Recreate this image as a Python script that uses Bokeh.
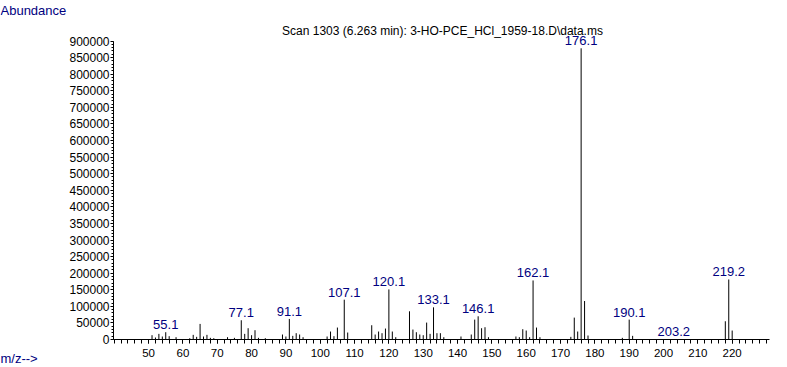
from bokeh.plotting import figure
from bokeh.models import FixedTicker, ColumnDataSource
from bokeh.embed import file_html
from bokeh.resources import INLINE
from bokeh.core.properties import value

# ---------------- data ----------------
mz = [51, 52, 53, 54, 55, 56, 58, 62, 63, 64, 65, 66, 67, 68, 69, 73, 75,
      77, 78, 79, 80, 81, 82, 84, 89, 90, 91, 92, 93, 94, 95,
      102, 103, 104, 105, 107, 108, 115, 116, 117, 118, 119, 120, 121, 122,
      126, 127, 128, 129, 130, 131, 132, 133, 134, 135, 136, 141,
      144, 145, 146, 147, 148, 149, 157, 158, 159, 160, 161, 162, 163, 164,
      173, 174, 175, 176, 177, 178, 188, 190, 191, 203, 218, 219, 220]
abundance = [13000, 6000, 17000, 9000, 22000, 10000, 7000, 4000, 14000, 8000, 47000, 9000, 14000, 5000, 4000, 7000, 5000,
             58000, 17000, 34000, 13000, 28000, 5000, 4000, 15000, 9000, 62000, 11000, 19000, 15000, 7000,
             9000, 24000, 10000, 36000, 120000, 21000, 43000, 15000, 24000, 19000, 33000, 151000, 24000, 7000,
             85000, 30000, 22000, 15000, 13000, 51000, 17000, 97000, 19000, 19000, 7000, 9000,
             15000, 60000, 70000, 34000, 37000, 7000, 9000, 7000, 31000, 27000, 7000, 178000, 36000, 7000,
             8000, 66000, 24000, 878000, 116000, 12000, 5000, 60000, 11000, 1500, 55000, 181000, 27000]

label_mz = [55, 77, 91, 107, 120, 133, 146, 162, 176, 190, 203, 219]
label_text = ["55.1", "77.1", "91.1", "107.1", "120.1", "133.1", "146.1",
              "162.1", "176.1", "190.1", "203.2", "219.2"]

y_ticks = list(range(0, 900001, 50000))
y_minor = list(range(0, 900001, 10000))
x_ticks = list(range(50, 221, 10))
x_minor = list(range(40, 231, 2))

title_text = "Scan 1303 (6.263 min): 3-HO-PCE_HCl_1959-18.D\\data.ms"
y_title = "Abundance"
x_title = "m/z-->"

# ---------------- layout ----------------
W, H = 787, 367
AX_LEFT, AX_RIGHT, AX_BASE = 113, 769, 339      # pixel positions of the axes
AX_X0, AX_X1 = 39.78, 230.87                     # data span of the x axis
PX_PER_UNIT = (AX_RIGHT - AX_LEFT) / (AX_X1 - AX_X0)
Y_PER_PX = 900000 / 298.5

X_START = AX_X0 - AX_LEFT / PX_PER_UNIT
X_END = AX_X1 + (W - AX_RIGHT) / PX_PER_UNIT
Y_START = -(H - AX_BASE) * Y_PER_PX
Y_END = AX_BASE * Y_PER_PX


def dx(px):
    return X_START + px / PX_PER_UNIT


def dy(py):
    return (AX_BASE - py) * Y_PER_PX


p = figure(width=W, height=H, x_range=(X_START, X_END), y_range=(Y_START, Y_END),
           output_backend="svg", toolbar_location=None, min_border=0)
p.grid.visible = False
p.outline_line_color = None
p.background_fill_color = "white"
p.border_fill_color = "white"

src = ColumnDataSource(dict(x=mz, top=abundance, base=[0] * len(mz)))
p.segment(x0="x", y0="base", x1="x", y1="top", source=src,
          line_color="black", line_width=1)

lab_y = [abundance[mz.index(m)] for m in label_mz]
lsrc = ColumnDataSource(dict(x=label_mz, y=lab_y, t=label_text))
p.text(x="x", y="y", text="t", source=lsrc, text_align="center",
       text_baseline="bottom", y_offset=-3,
       text_font=value("Liberation Sans"), text_font_size="13px",
       text_color="#000080")

# axes (drawn at fixed positions inside the frame)
ya = p.yaxis[0]
ya.fixed_location = AX_X0
ya.ticker = FixedTicker(ticks=y_ticks, minor_ticks=y_minor)
ya.bounds = (0, 900000)
ya.major_tick_out = 3
ya.major_tick_in = 0
ya.minor_tick_out = 2
ya.minor_tick_in = 0
ya.major_label_standoff = 1
ya.major_label_text_font = "Liberation Sans"
ya.major_label_text_font_size = "12px"
ya.major_label_text_color = "black"
ya.axis_line_color = "black"
ya.major_tick_line_color = "black"
ya.minor_tick_line_color = "black"
ya.formatter.use_scientific = False

xa = p.xaxis[0]
xa.fixed_location = 0
xa.ticker = FixedTicker(ticks=x_ticks, minor_ticks=x_minor)
xa.bounds = (AX_X0, AX_X1)
xa.major_tick_out = 4
xa.major_tick_in = 0
xa.minor_tick_out = 4
xa.minor_tick_in = 0
xa.major_label_standoff = 5
xa.major_label_text_font = "Liberation Sans"
xa.major_label_text_font_size = "11.5px"
xa.major_label_text_color = "black"
xa.axis_line_color = "black"
xa.major_tick_line_color = "black"
xa.minor_tick_line_color = "black"

# texts
p.text(x=[dx(442)], y=[dy(30)], text=[title_text], text_align="center",
       text_baseline="middle", text_font=value("Liberation Sans"),
       text_font_size="12px", text_color="black")
p.text(x=[dx(0)], y=[dy(2)], text=[y_title], text_align="left",
       text_baseline="top", text_font=value("Liberation Sans"),
       text_font_size="13px", text_color="#000080")
p.text(x=[dx(0)], y=[dy(365)], text=[x_title], text_align="left",
       text_baseline="bottom", text_font=value("Liberation Sans"),
       text_font_size="13px", text_color="#000080")

open("out.html", "w").write(file_html(p, INLINE))
